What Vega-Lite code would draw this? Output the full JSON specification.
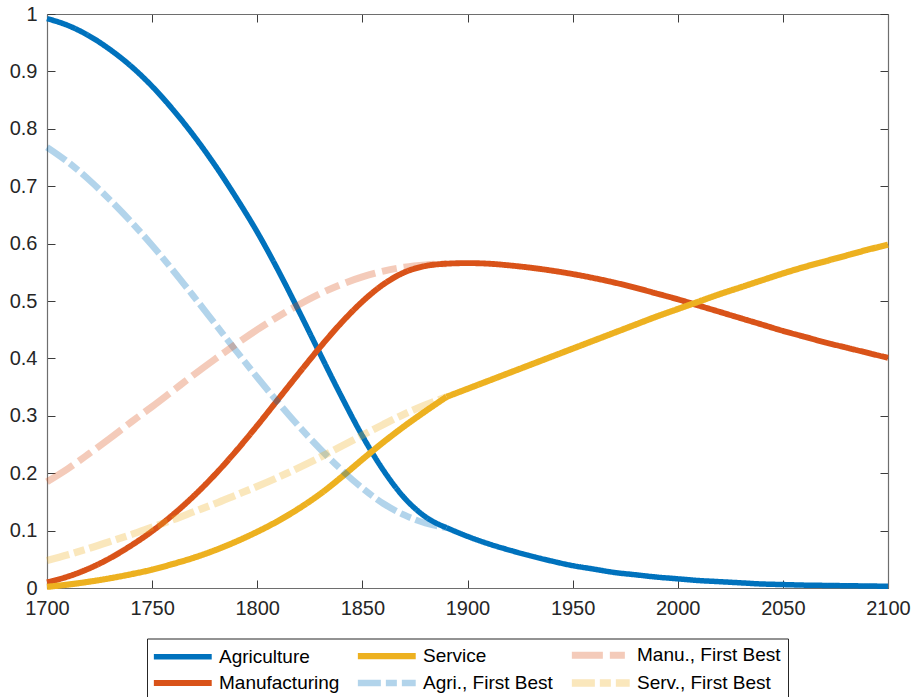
{
  "$schema": "https://vega.github.io/schema/vega-lite/v6.json",
  "width": 841,
  "height": 574,
  "autosize": {"type": "none"},
  "padding": {"left": 47, "top": 14, "right": 27, "bottom": 109},
  "background": "white",
  "config": {
    "view": {"stroke": null},
    "font": "Liberation Sans",
    "axis": {
      "grid": false,
      "domainColor": "#6e6e6e",
      "domainWidth": 1.2,
      "tickColor": "#3c3c3c",
      "tickWidth": 1,
      "tickSize": -8,
      "labelFont": "Liberation Sans",
      "labelFontSize": 20,
      "labelColor": "#262626",
      "title": null
    },
    "legend": {
      "labelFont": "Liberation Sans",
      "labelFontSize": 19,
      "labelColor": "#000000"
    }
  },
  "data": {
    "values": [
      {"series": "Agriculture", "part": "a", "year": 1700, "share": 0.992},
      {"series": "Agriculture", "part": "a", "year": 1710, "share": 0.980},
      {"series": "Agriculture", "part": "a", "year": 1720, "share": 0.962},
      {"series": "Agriculture", "part": "a", "year": 1730, "share": 0.938},
      {"series": "Agriculture", "part": "a", "year": 1740, "share": 0.909},
      {"series": "Agriculture", "part": "a", "year": 1750, "share": 0.874},
      {"series": "Agriculture", "part": "a", "year": 1760, "share": 0.833},
      {"series": "Agriculture", "part": "a", "year": 1770, "share": 0.787},
      {"series": "Agriculture", "part": "a", "year": 1780, "share": 0.736},
      {"series": "Agriculture", "part": "a", "year": 1790, "share": 0.680},
      {"series": "Agriculture", "part": "a", "year": 1800, "share": 0.620},
      {"series": "Agriculture", "part": "a", "year": 1810, "share": 0.553},
      {"series": "Agriculture", "part": "a", "year": 1820, "share": 0.481},
      {"series": "Agriculture", "part": "a", "year": 1830, "share": 0.407},
      {"series": "Agriculture", "part": "a", "year": 1840, "share": 0.334},
      {"series": "Agriculture", "part": "a", "year": 1850, "share": 0.265},
      {"series": "Agriculture", "part": "a", "year": 1860, "share": 0.205},
      {"series": "Agriculture", "part": "a", "year": 1870, "share": 0.157},
      {"series": "Agriculture", "part": "a", "year": 1880, "share": 0.124},
      {"series": "Agriculture", "part": "a", "year": 1890, "share": 0.105},
      {"series": "Agriculture", "part": "b", "year": 1890, "share": 0.105},
      {"series": "Agriculture", "part": "b", "year": 1900, "share": 0.090},
      {"series": "Agriculture", "part": "b", "year": 1910, "share": 0.077},
      {"series": "Agriculture", "part": "b", "year": 1920, "share": 0.066},
      {"series": "Agriculture", "part": "b", "year": 1930, "share": 0.056},
      {"series": "Agriculture", "part": "b", "year": 1940, "share": 0.047},
      {"series": "Agriculture", "part": "b", "year": 1950, "share": 0.039},
      {"series": "Agriculture", "part": "b", "year": 1960, "share": 0.033},
      {"series": "Agriculture", "part": "b", "year": 1970, "share": 0.027},
      {"series": "Agriculture", "part": "b", "year": 1980, "share": 0.023},
      {"series": "Agriculture", "part": "b", "year": 1990, "share": 0.019},
      {"series": "Agriculture", "part": "b", "year": 2000, "share": 0.016},
      {"series": "Agriculture", "part": "b", "year": 2010, "share": 0.013},
      {"series": "Agriculture", "part": "b", "year": 2020, "share": 0.011},
      {"series": "Agriculture", "part": "b", "year": 2030, "share": 0.009},
      {"series": "Agriculture", "part": "b", "year": 2040, "share": 0.007},
      {"series": "Agriculture", "part": "b", "year": 2050, "share": 0.006},
      {"series": "Agriculture", "part": "b", "year": 2060, "share": 0.005},
      {"series": "Agriculture", "part": "b", "year": 2070, "share": 0.0045},
      {"series": "Agriculture", "part": "b", "year": 2080, "share": 0.004},
      {"series": "Agriculture", "part": "b", "year": 2090, "share": 0.0035},
      {"series": "Agriculture", "part": "b", "year": 2100, "share": 0.003},

      {"series": "Manufacturing", "part": "a", "year": 1700, "share": 0.010},
      {"series": "Manufacturing", "part": "a", "year": 1710, "share": 0.020},
      {"series": "Manufacturing", "part": "a", "year": 1720, "share": 0.034},
      {"series": "Manufacturing", "part": "a", "year": 1730, "share": 0.052},
      {"series": "Manufacturing", "part": "a", "year": 1740, "share": 0.074},
      {"series": "Manufacturing", "part": "a", "year": 1750, "share": 0.099},
      {"series": "Manufacturing", "part": "a", "year": 1760, "share": 0.128},
      {"series": "Manufacturing", "part": "a", "year": 1770, "share": 0.161},
      {"series": "Manufacturing", "part": "a", "year": 1780, "share": 0.198},
      {"series": "Manufacturing", "part": "a", "year": 1790, "share": 0.239},
      {"series": "Manufacturing", "part": "a", "year": 1800, "share": 0.283},
      {"series": "Manufacturing", "part": "a", "year": 1810, "share": 0.329},
      {"series": "Manufacturing", "part": "a", "year": 1820, "share": 0.375},
      {"series": "Manufacturing", "part": "a", "year": 1830, "share": 0.420},
      {"series": "Manufacturing", "part": "a", "year": 1840, "share": 0.462},
      {"series": "Manufacturing", "part": "a", "year": 1850, "share": 0.499},
      {"series": "Manufacturing", "part": "a", "year": 1860, "share": 0.529},
      {"series": "Manufacturing", "part": "a", "year": 1870, "share": 0.550},
      {"series": "Manufacturing", "part": "a", "year": 1880, "share": 0.561},
      {"series": "Manufacturing", "part": "a", "year": 1890, "share": 0.565},
      {"series": "Manufacturing", "part": "a", "year": 1900, "share": 0.566},
      {"series": "Manufacturing", "part": "a", "year": 1910, "share": 0.565},
      {"series": "Manufacturing", "part": "a", "year": 1920, "share": 0.562},
      {"series": "Manufacturing", "part": "a", "year": 1930, "share": 0.558},
      {"series": "Manufacturing", "part": "a", "year": 1940, "share": 0.553},
      {"series": "Manufacturing", "part": "a", "year": 1950, "share": 0.547},
      {"series": "Manufacturing", "part": "a", "year": 1960, "share": 0.540},
      {"series": "Manufacturing", "part": "a", "year": 1970, "share": 0.532},
      {"series": "Manufacturing", "part": "a", "year": 1980, "share": 0.523},
      {"series": "Manufacturing", "part": "a", "year": 1990, "share": 0.513},
      {"series": "Manufacturing", "part": "a", "year": 2000, "share": 0.503},
      {"series": "Manufacturing", "part": "a", "year": 2010, "share": 0.492},
      {"series": "Manufacturing", "part": "a", "year": 2020, "share": 0.481},
      {"series": "Manufacturing", "part": "a", "year": 2030, "share": 0.470},
      {"series": "Manufacturing", "part": "a", "year": 2040, "share": 0.459},
      {"series": "Manufacturing", "part": "a", "year": 2050, "share": 0.448},
      {"series": "Manufacturing", "part": "a", "year": 2060, "share": 0.438},
      {"series": "Manufacturing", "part": "a", "year": 2070, "share": 0.428},
      {"series": "Manufacturing", "part": "a", "year": 2080, "share": 0.419},
      {"series": "Manufacturing", "part": "a", "year": 2090, "share": 0.410},
      {"series": "Manufacturing", "part": "a", "year": 2100, "share": 0.401},

      {"series": "Service", "part": "a", "year": 1700, "share": 0.002},
      {"series": "Service", "part": "a", "year": 1710, "share": 0.006},
      {"series": "Service", "part": "a", "year": 1720, "share": 0.011},
      {"series": "Service", "part": "a", "year": 1730, "share": 0.017},
      {"series": "Service", "part": "a", "year": 1740, "share": 0.024},
      {"series": "Service", "part": "a", "year": 1750, "share": 0.032},
      {"series": "Service", "part": "a", "year": 1760, "share": 0.042},
      {"series": "Service", "part": "a", "year": 1770, "share": 0.053},
      {"series": "Service", "part": "a", "year": 1780, "share": 0.066},
      {"series": "Service", "part": "a", "year": 1790, "share": 0.081},
      {"series": "Service", "part": "a", "year": 1800, "share": 0.098},
      {"series": "Service", "part": "a", "year": 1810, "share": 0.117},
      {"series": "Service", "part": "a", "year": 1820, "share": 0.139},
      {"series": "Service", "part": "a", "year": 1830, "share": 0.164},
      {"series": "Service", "part": "a", "year": 1840, "share": 0.193},
      {"series": "Service", "part": "a", "year": 1850, "share": 0.224},
      {"series": "Service", "part": "a", "year": 1860, "share": 0.254},
      {"series": "Service", "part": "a", "year": 1870, "share": 0.282},
      {"series": "Service", "part": "a", "year": 1880, "share": 0.308},
      {"series": "Service", "part": "a", "year": 1890, "share": 0.333},
      {"series": "Service", "part": "b", "year": 1890, "share": 0.333},
      {"series": "Service", "part": "b", "year": 1900, "share": 0.347},
      {"series": "Service", "part": "b", "year": 1910, "share": 0.361},
      {"series": "Service", "part": "b", "year": 1920, "share": 0.375},
      {"series": "Service", "part": "b", "year": 1930, "share": 0.389},
      {"series": "Service", "part": "b", "year": 1940, "share": 0.403},
      {"series": "Service", "part": "b", "year": 1950, "share": 0.417},
      {"series": "Service", "part": "b", "year": 1960, "share": 0.431},
      {"series": "Service", "part": "b", "year": 1970, "share": 0.445},
      {"series": "Service", "part": "b", "year": 1980, "share": 0.459},
      {"series": "Service", "part": "b", "year": 1990, "share": 0.473},
      {"series": "Service", "part": "b", "year": 2000, "share": 0.486},
      {"series": "Service", "part": "b", "year": 2010, "share": 0.499},
      {"series": "Service", "part": "b", "year": 2020, "share": 0.512},
      {"series": "Service", "part": "b", "year": 2030, "share": 0.524},
      {"series": "Service", "part": "b", "year": 2040, "share": 0.536},
      {"series": "Service", "part": "b", "year": 2050, "share": 0.548},
      {"series": "Service", "part": "b", "year": 2060, "share": 0.559},
      {"series": "Service", "part": "b", "year": 2070, "share": 0.569},
      {"series": "Service", "part": "b", "year": 2080, "share": 0.579},
      {"series": "Service", "part": "b", "year": 2090, "share": 0.589},
      {"series": "Service", "part": "b", "year": 2100, "share": 0.598},

      {"series": "Agri., First Best", "part": "a", "year": 1700, "share": 0.768},
      {"series": "Agri., First Best", "part": "a", "year": 1710, "share": 0.742},
      {"series": "Agri., First Best", "part": "a", "year": 1720, "share": 0.711},
      {"series": "Agri., First Best", "part": "a", "year": 1730, "share": 0.676},
      {"series": "Agri., First Best", "part": "a", "year": 1740, "share": 0.638},
      {"series": "Agri., First Best", "part": "a", "year": 1750, "share": 0.597},
      {"series": "Agri., First Best", "part": "a", "year": 1760, "share": 0.553},
      {"series": "Agri., First Best", "part": "a", "year": 1770, "share": 0.507},
      {"series": "Agri., First Best", "part": "a", "year": 1780, "share": 0.460},
      {"series": "Agri., First Best", "part": "a", "year": 1790, "share": 0.413},
      {"series": "Agri., First Best", "part": "a", "year": 1800, "share": 0.367},
      {"series": "Agri., First Best", "part": "a", "year": 1810, "share": 0.323},
      {"series": "Agri., First Best", "part": "a", "year": 1820, "share": 0.281},
      {"series": "Agri., First Best", "part": "a", "year": 1830, "share": 0.242},
      {"series": "Agri., First Best", "part": "a", "year": 1840, "share": 0.206},
      {"series": "Agri., First Best", "part": "a", "year": 1850, "share": 0.174},
      {"series": "Agri., First Best", "part": "a", "year": 1860, "share": 0.147},
      {"series": "Agri., First Best", "part": "a", "year": 1870, "share": 0.127},
      {"series": "Agri., First Best", "part": "a", "year": 1880, "share": 0.113},
      {"series": "Agri., First Best", "part": "a", "year": 1890, "share": 0.105},

      {"series": "Manu., First Best", "part": "a", "year": 1700, "share": 0.185},
      {"series": "Manu., First Best", "part": "a", "year": 1710, "share": 0.208},
      {"series": "Manu., First Best", "part": "a", "year": 1720, "share": 0.234},
      {"series": "Manu., First Best", "part": "a", "year": 1730, "share": 0.261},
      {"series": "Manu., First Best", "part": "a", "year": 1740, "share": 0.289},
      {"series": "Manu., First Best", "part": "a", "year": 1750, "share": 0.316},
      {"series": "Manu., First Best", "part": "a", "year": 1760, "share": 0.344},
      {"series": "Manu., First Best", "part": "a", "year": 1770, "share": 0.372},
      {"series": "Manu., First Best", "part": "a", "year": 1780, "share": 0.399},
      {"series": "Manu., First Best", "part": "a", "year": 1790, "share": 0.425},
      {"series": "Manu., First Best", "part": "a", "year": 1800, "share": 0.450},
      {"series": "Manu., First Best", "part": "a", "year": 1810, "share": 0.473},
      {"series": "Manu., First Best", "part": "a", "year": 1820, "share": 0.494},
      {"series": "Manu., First Best", "part": "a", "year": 1830, "share": 0.513},
      {"series": "Manu., First Best", "part": "a", "year": 1840, "share": 0.529},
      {"series": "Manu., First Best", "part": "a", "year": 1850, "share": 0.542},
      {"series": "Manu., First Best", "part": "a", "year": 1860, "share": 0.552},
      {"series": "Manu., First Best", "part": "a", "year": 1870, "share": 0.559},
      {"series": "Manu., First Best", "part": "a", "year": 1880, "share": 0.563},
      {"series": "Manu., First Best", "part": "a", "year": 1890, "share": 0.565},

      {"series": "Serv., First Best", "part": "a", "year": 1700, "share": 0.048},
      {"series": "Serv., First Best", "part": "a", "year": 1710, "share": 0.058},
      {"series": "Serv., First Best", "part": "a", "year": 1720, "share": 0.069},
      {"series": "Serv., First Best", "part": "a", "year": 1730, "share": 0.081},
      {"series": "Serv., First Best", "part": "a", "year": 1740, "share": 0.093},
      {"series": "Serv., First Best", "part": "a", "year": 1750, "share": 0.106},
      {"series": "Serv., First Best", "part": "a", "year": 1760, "share": 0.119},
      {"series": "Serv., First Best", "part": "a", "year": 1770, "share": 0.133},
      {"series": "Serv., First Best", "part": "a", "year": 1780, "share": 0.147},
      {"series": "Serv., First Best", "part": "a", "year": 1790, "share": 0.162},
      {"series": "Serv., First Best", "part": "a", "year": 1800, "share": 0.177},
      {"series": "Serv., First Best", "part": "a", "year": 1810, "share": 0.193},
      {"series": "Serv., First Best", "part": "a", "year": 1820, "share": 0.210},
      {"series": "Serv., First Best", "part": "a", "year": 1830, "share": 0.228},
      {"series": "Serv., First Best", "part": "a", "year": 1840, "share": 0.247},
      {"series": "Serv., First Best", "part": "a", "year": 1850, "share": 0.266},
      {"series": "Serv., First Best", "part": "a", "year": 1860, "share": 0.285},
      {"series": "Serv., First Best", "part": "a", "year": 1870, "share": 0.303},
      {"series": "Serv., First Best", "part": "a", "year": 1880, "share": 0.319},
      {"series": "Serv., First Best", "part": "a", "year": 1890, "share": 0.333}
    ]
  },
  "resolve": {"axis": {"x": "independent", "y": "independent"}},
  "layer": [
    {
      "mark": {"type": "line", "interpolate": "monotone"},
      "encoding": {
        "x": {
          "field": "year", "type": "quantitative",
          "scale": {"domain": [1700, 2100], "nice": false, "zero": false},
          "axis": {"orient": "bottom", "values": [1700, 1750, 1800, 1850, 1900, 1950, 2000, 2050, 2100], "format": "d", "labelPadding": 18, "labelFlush": false, "labelOverlap": false}
        },
        "y": {
          "field": "share", "type": "quantitative",
          "scale": {"domain": [0, 1], "nice": false},
          "axis": {"orient": "left", "values": [0, 0.1, 0.2, 0.3, 0.4, 0.5, 0.6, 0.7, 0.8, 0.9, 1], "format": "~g", "labelPadding": 18, "labelFlush": false, "labelOverlap": false}
        },
        "color": {
          "field": "series", "type": "nominal",
          "scale": {
            "domain": ["Agriculture", "Manufacturing", "Service", "Agri., First Best", "Manu., First Best", "Serv., First Best"],
            "range": ["#0072BD", "#D95319", "#EDB120", "rgba(0,114,189,0.3)", "rgba(217,83,25,0.3)", "rgba(237,177,32,0.3)"]
          },
          "legend": {
            "title": null,
            "orient": "none",
            "legendX": 100,
            "legendY": 624.5,
            "columns": 3,
            "gridAlign": "each",
            "columnPadding": 4,
            "rowPadding": -2,
            "padding": 7,
            "strokeColor": "#262626",
            "fillColor": "white",
            "symbolType": "M-2,0H10",
            "symbolSize": 93,
            "labelOffset": 46
          }
        },
        "strokeDash": {
          "field": "series", "type": "nominal",
          "scale": {
            "domain": ["Agriculture", "Manufacturing", "Service", "Agri., First Best", "Manu., First Best", "Serv., First Best"],
            "range": [[1, 0], [1, 0], [1, 0], [23, 5, 11, 5], [31, 7, 15, 7], [23, 5, 11, 5]]
          },
          "legend": {"title": null}
        },
        "strokeWidth": {
          "field": "series", "type": "nominal",
          "scale": {
            "domain": ["Agriculture", "Manufacturing", "Service", "Agri., First Best", "Manu., First Best", "Serv., First Best"],
            "range": [5.5, 7.3, 5.5, 5.5, 7.3, 5.5]
          },
          "legend": {"title": null}
        },
        "detail": {"field": "part", "type": "nominal"}
      }
    },
    {
      "mark": {"type": "point", "opacity": 0},
      "encoding": {
        "x": {
          "field": "year", "type": "quantitative",
          "axis": {"orient": "top", "values": [1700, 1750, 1800, 1850, 1900, 1950, 2000, 2050, 2100], "labels": false}
        },
        "y": {
          "field": "share", "type": "quantitative",
          "axis": {"orient": "right", "values": [0, 0.1, 0.2, 0.3, 0.4, 0.5, 0.6, 0.7, 0.8, 0.9, 1], "labels": false}
        }
      }
    }
  ]
}
